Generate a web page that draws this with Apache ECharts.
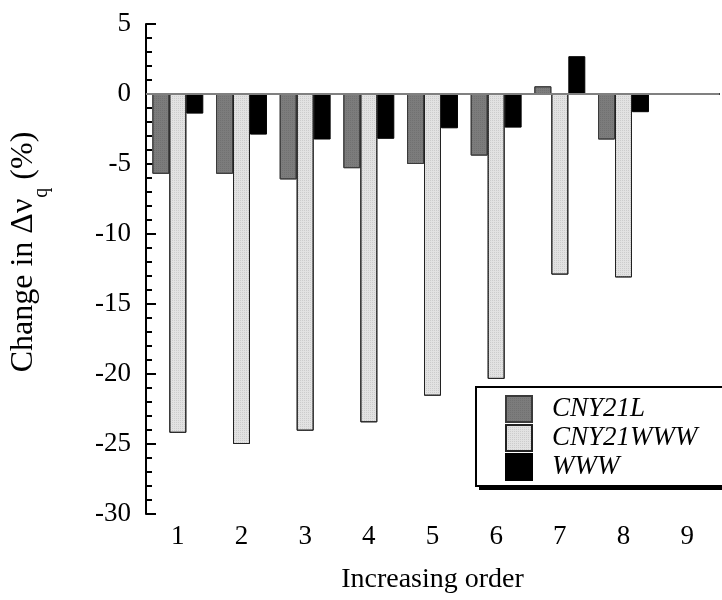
<!DOCTYPE html>
<html>
<head>
<meta charset="utf-8">
<script src="https://cdn.jsdelivr.net/npm/echarts@6/dist/echarts.min.js"></script>
<style>
  html, body { margin: 0; padding: 0; background: #fff; }
  #chart { width: 722px; height: 600px; }
</style>
</head>
<body>
<div id="chart"></div>
<script>
// Relative change of the quadrupole splitting for each step of the ordering
const categories = ['1', '2', '3', '4', '5', '6', '7', '8', '9'];
const cny21l    = [-5.7, -5.7, -6.1, -5.3, -5.0, -4.4, 0.55, -3.25, null];
const cny21www  = [-24.2, -25.0, -24.05, -23.45, -21.55, -20.35, -12.9, -13.1, null];
const www       = [-1.4, -2.9, -3.25, -3.2, -2.45, -2.4, 2.7, -1.3, null];
const seriesNames = ['CNY21L', 'CNY21WWW', 'WWW'];

const FONT = 'Liberation Serif, Times New Roman, serif';

const chart = echarts.init(document.getElementById('chart'), null, { renderer: 'canvas' });

const stipple = (dot) => ({
  symbol: 'rect',
  symbolSize: 1,
  dashArrayX: [1, 1],
  dashArrayY: [1, 1],
  color: dot
});

chart.setOption({
  animation: false,
  backgroundColor: '#fff',
  grid: { left: 146, right: 3, top: 24, bottom: 86, containLabel: false },
  // legend frame with a solid drop shadow, running off the right edge
  graphic: [
    { type: 'rect', z: 90, shape: { x: 479, y: 391, width: 300, height: 99 }, style: { fill: '#000' }, silent: true },
    { type: 'rect', z: 91, shape: { x: 476, y: 387, width: 300, height: 99 }, style: { fill: '#fff', stroke: '#000', lineWidth: 2 }, silent: true }
  ],
  legend: {
    orient: 'vertical',
    left: 505,
    top: 395,
    z: 100,
    data: seriesNames,
    icon: 'rect',
    itemWidth: 26,
    itemHeight: 26,
    itemGap: 1,
    padding: 0,
    textStyle: {
      fontFamily: FONT,
      fontStyle: 'italic',
      fontSize: 27,
      color: '#000',
      padding: [0, 0, 0, 15]
    }
  },
  xAxis: {
    type: 'category',
    data: categories,
    name: 'Increasing order',
    nameLocation: 'middle',
    nameGap: 52,
    nameTextStyle: { fontFamily: FONT, fontSize: 28, color: '#000' },
    axisLine: { lineStyle: { color: '#000', width: 2 } },
    axisTick: { inside: true, length: 10, lineStyle: { color: '#000', width: 2 } },
    axisLabel: { fontFamily: FONT, fontSize: 27, color: '#000', margin: 9 },
    splitLine: { show: false }
  },
  yAxis: {
    type: 'value',
    min: -30,
    max: 5,
    interval: 5,
    name: '{t|Change in \u0394\u03bd}{s|q}{t| (%)}',
    nameLocation: 'middle',
    nameRotate: 90,
    nameGap: 106,
    nameTextStyle: {
      fontFamily: FONT,
      color: '#000',
      padding: [0, 0, 0, 34],
      rich: {
        t: { fontFamily: FONT, fontSize: 32, color: '#000' },
        s: { fontFamily: FONT, fontSize: 20, color: '#000', verticalAlign: 'bottom', padding: [0, 0, -12, 1] }
      }
    },
    axisLine: { show: true, lineStyle: { color: '#000', width: 2 } },
    axisTick: { show: true, inside: true, length: 10, lineStyle: { color: '#000', width: 2 } },
    minorTick: { show: true, splitNumber: 5, length: 6, lineStyle: { color: '#000', width: 2 } },
    axisLabel: { fontFamily: FONT, fontSize: 27, color: '#000', margin: 15 },
    splitLine: { show: false }
  },
  series: [
    {
      name: seriesNames[0],
      type: 'bar',
      data: cny21l,
      barGap: '0%',
      barCategoryGap: '20%',
      itemStyle: { color: '#7c7c7c', borderColor: '#3a3a3a', borderWidth: 1, decal: stipple('rgba(100,100,100,0.45)') },
      markLine: {
        silent: true,
        symbol: 'none',
        label: { show: false },
        lineStyle: { color: '#808080', width: 2, type: 'solid' },
        data: [{ yAxis: 0 }]
      },
      z: 3
    },
    {
      name: seriesNames[1],
      type: 'bar',
      data: cny21www,
      barGap: '0%',
      barCategoryGap: '20%',
      itemStyle: { color: '#e2e2e2', borderColor: '#222', borderWidth: 1, decal: stipple('rgba(190,190,190,0.6)') },
      z: 3
    },
    {
      name: seriesNames[2],
      type: 'bar',
      data: www,
      barGap: '0%',
      barCategoryGap: '20%',
      itemStyle: { color: '#000', borderColor: '#000', borderWidth: 1 },
      z: 3
    }
  ]
});
</script>
</body>
</html>
